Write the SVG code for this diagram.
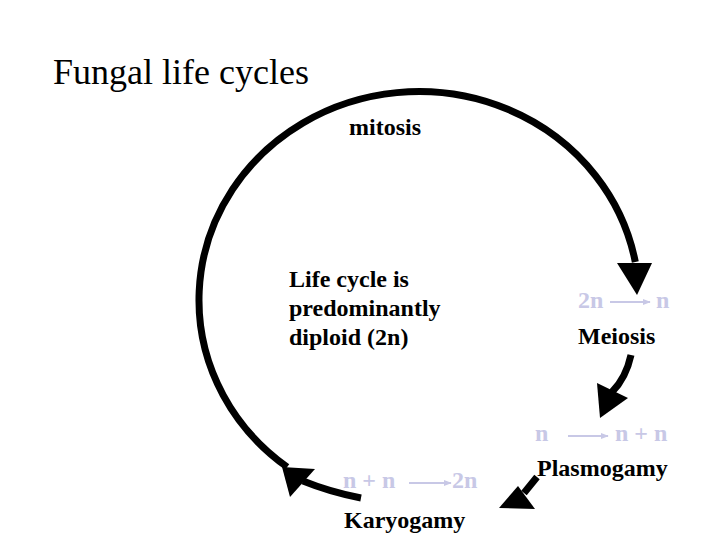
<svg xmlns="http://www.w3.org/2000/svg" width="720" height="540" viewBox="0 0 720 540">
  <defs>
    <style>
      text { font-family: "Liberation Serif", "DejaVu Serif", "Noto Serif", serif; }
      .title { font-size: 36px; fill: #000; }
      .lbl { font-size: 24px; font-weight: bold; fill: #000; }
      .ploidy { font-size: 24px; font-weight: bold; fill: #C8C8E6; }
      .cyc { fill: none; stroke: #000; stroke-width: 7; }
      .head { fill: #000; stroke: none; }
      .pl { stroke: #C8C8E6; stroke-width: 2; fill: none; }
    </style>
    <marker id="lav" viewBox="0 0 10 10" refX="9" refY="5" markerWidth="4" markerHeight="4" orient="auto" markerUnits="strokeWidth">
      <path d="M0,1 L10,5 L0,9 z" fill="#C8C8E6"/>
    </marker>
  </defs>
  <rect width="720" height="540" fill="#fff"/>

  <text class="title" x="53" y="84" font-family="Liberation Serif, serif">Fungal life cycles</text>

  <g id="connectors">
    <!-- main mitosis arc -->
    <path class="cyc" d="M 287.2 467 A 220 208.5 0 1 1 635.3 262"/>
    <polygon class="head" points="617,263 652,263 637,295"/>
    <!-- meiosis arrow -->
    <path class="cyc" d="M 631 355 Q 626 378 612 392"/>
    <polygon class="head" points="597,383 628,398 600,418"/>
    <!-- plasmogamy arrow -->
    <path class="cyc" stroke-width="6" d="M 537 477 L 524 493"/>
    <polygon class="head" points="499,508 518,486 535,509"/>
    <!-- karyogamy arrow -->
    <path class="cyc" d="M 361 498 Q 330 492 303 481"/>
    <polygon class="head" points="282,467 315,469 290,497"/>
  </g>

  <g id="node-mitosis">
    <text class="lbl" x="349" y="135" font-size="23">mitosis</text>
  </g>

  <g id="node-center">
    <text class="lbl" x="289" y="287">Life cycle is</text>
    <text class="lbl" x="289" y="316">predominantly</text>
    <text class="lbl" x="289" y="345">diploid (2n)</text>
  </g>

  <g id="node-meiosis">
    <text class="ploidy" x="578" y="308">2n</text>
    <line class="pl" x1="610" y1="302" x2="650" y2="302" marker-end="url(#lav)"/>
    <text class="ploidy" x="656" y="308">n</text>
    <text class="lbl" x="578" y="344">Meiosis</text>
  </g>

  <g id="node-plasmogamy">
    <text class="ploidy" x="535" y="441">n</text>
    <line class="pl" x1="568" y1="436" x2="608" y2="436" marker-end="url(#lav)"/>
    <text class="ploidy" x="615" y="441">n + n</text>
    <text class="lbl" x="537" y="476">Plasmogamy</text>
  </g>

  <g id="node-karyogamy">
    <text class="ploidy" x="343" y="488">n + n</text>
    <line class="pl" x1="409" y1="483" x2="451" y2="483" marker-end="url(#lav)"/>
    <text class="ploidy" x="452" y="488">2n</text>
    <text class="lbl" x="344" y="528">Karyogamy</text>
  </g>
</svg>
